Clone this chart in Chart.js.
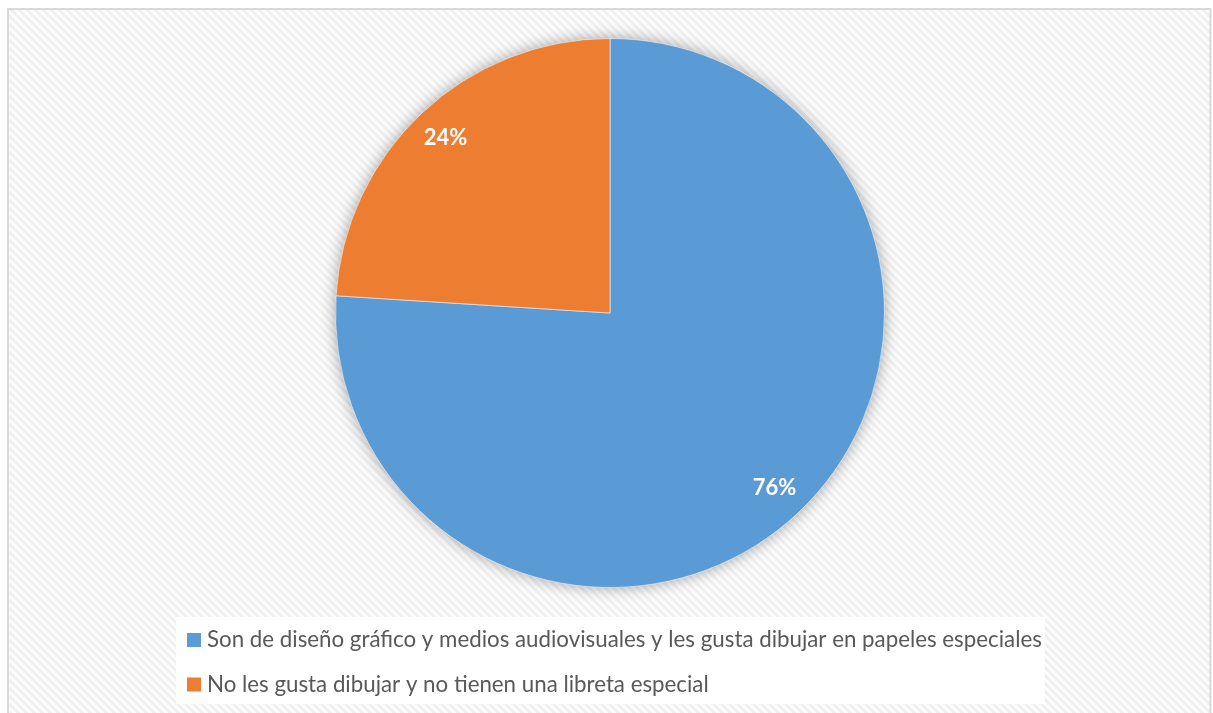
<!DOCTYPE html>
<html lang="es">
<head>
<meta charset="utf-8">
<title>Gráfico circular</title>
<script src="https://cdn.jsdelivr.net/npm/chart.js@4.4.1/dist/chart.umd.min.js"></script>
<style>
  html, body { margin: 0; padding: 0; background: #ffffff; overflow: hidden; }
  #wrap { width: 1213px; height: 713px; }
</style>
</head>
<body>
<div id="wrap"><canvas id="pie" width="1213" height="713"></canvas></div>
<script>
// Categories and their shares (%)
const categories = [
  'Son de diseño gráfico y medios audiovisuales y les gusta dibujar en papeles especiales',
  'No les gusta dibujar y no tienen una libreta especial'
];
const percentages = [76, 24];
const sliceColors = ['#5B9BD5', '#ED7D31'];

const FONT = 'Lato, "Open Sans", "Noto Sans", sans-serif';

// Light diagonal hatch used for the chart background
function makeHatch(ctx) {
  const size = 8;
  const tile = document.createElement('canvas');
  tile.width = size; tile.height = size;
  const t = tile.getContext('2d');
  const img = t.createImageData(size, size);
  for (let y = 0; y < size; y++) {
    for (let x = 0; x < size; x++) {
      const k = ((x - y) % size + size) % size;
      const v = k < 4 ? 240 : 252;
      const i = (y * size + x) * 4;
      img.data[i] = v; img.data[i + 1] = v; img.data[i + 2] = v; img.data[i + 3] = 255;
    }
  }
  t.putImageData(img, 0, 0);
  return ctx.createPattern(tile, 'repeat');
}

const backdrop = {
  id: 'backdrop',
  beforeDraw(chart) {
    const ctx = chart.ctx;
    ctx.save();
    ctx.fillStyle = '#ffffff';
    ctx.fillRect(0, 0, chart.width, chart.height);
    ctx.fillStyle = makeHatch(ctx);
    ctx.fillRect(8, 9, chart.width - 10, chart.height);
    ctx.strokeStyle = '#d9d9d9';
    ctx.lineWidth = 2;
    ctx.strokeRect(8, 9, chart.width - 10.5, chart.height + 20);
    ctx.restore();
  }
};

// Soft halo beneath the pie
const pieShadow = {
  id: 'pieShadow',
  beforeDatasetsDraw(chart) {
    const arc = chart.getDatasetMeta(0).data[0];
    if (!arc) return;
    const { x, y, outerRadius } = arc.getProps(['x', 'y', 'outerRadius'], true);
    const ctx = chart.ctx;
    ctx.save();
    ctx.shadowColor = 'rgba(0,0,0,0.40)';
    ctx.shadowBlur = 16;
    ctx.fillStyle = sliceColors[0];
    ctx.beginPath();
    ctx.arc(x, y, outerRadius - 1, 0, Math.PI * 2);
    ctx.fill();
    ctx.restore();
  }
};

// Percentage labels inside the slices
const sliceLabels = {
  id: 'sliceLabels',
  afterDatasetsDraw(chart) {
    const ctx = chart.ctx;
    const meta = chart.getDatasetMeta(0);
    const values = chart.data.datasets[0].data;
    ctx.save();
    ctx.fillStyle = '#ffffff';
    ctx.font = 'bold 22px ' + FONT;
    ctx.textAlign = 'center';
    ctx.textBaseline = 'middle';
    meta.data.forEach((arc, i) => {
      const p = arc.getProps(['x', 'y', 'startAngle', 'endAngle', 'outerRadius'], true);
      const mid = (p.startAngle + p.endAngle) / 2;
      const r = p.outerRadius * 0.875;
      ctx.fillText(values[i] + '%', p.x + Math.cos(mid) * r, p.y + Math.sin(mid) * r);
    });
    ctx.restore();
  }
};

// Legend block under the pie
const legendBlock = {
  id: 'legendBlock',
  afterDraw(chart) {
    const ctx = chart.ctx;
    const colors = chart.data.datasets[0].backgroundColor;
    ctx.save();
    ctx.fillStyle = '#ffffff';
    ctx.fillRect(176, 617, 869, 87);
    ctx.font = '22.3px ' + FONT;
    ctx.textAlign = 'left';
    ctx.textBaseline = 'alphabetic';
    const rows = [647, 691.5];
    chart.data.labels.forEach((label, i) => {
      const base = rows[i];
      ctx.fillStyle = colors[i];
      ctx.fillRect(187, base - 14, 14, 14);
      ctx.fillStyle = '#595959';
      ctx.fillText(label, 207, base);
    });
    ctx.restore();
  }
};

new Chart(document.getElementById('pie'), {
  type: 'pie',
  data: {
    labels: categories,
    datasets: [{
      data: percentages,
      backgroundColor: sliceColors,
      borderColor: 'rgba(255,255,255,0.55)',
      borderWidth: 1
    }]
  },
  options: {
    responsive: false,
    animation: false,
    layout: { padding: { top: 38, bottom: 125, left: 335, right: 328 } },
    plugins: {
      legend: { display: false },
      tooltip: { enabled: false }
    }
  },
  plugins: [backdrop, pieShadow, sliceLabels, legendBlock]
});
</script>
</body>
</html>
